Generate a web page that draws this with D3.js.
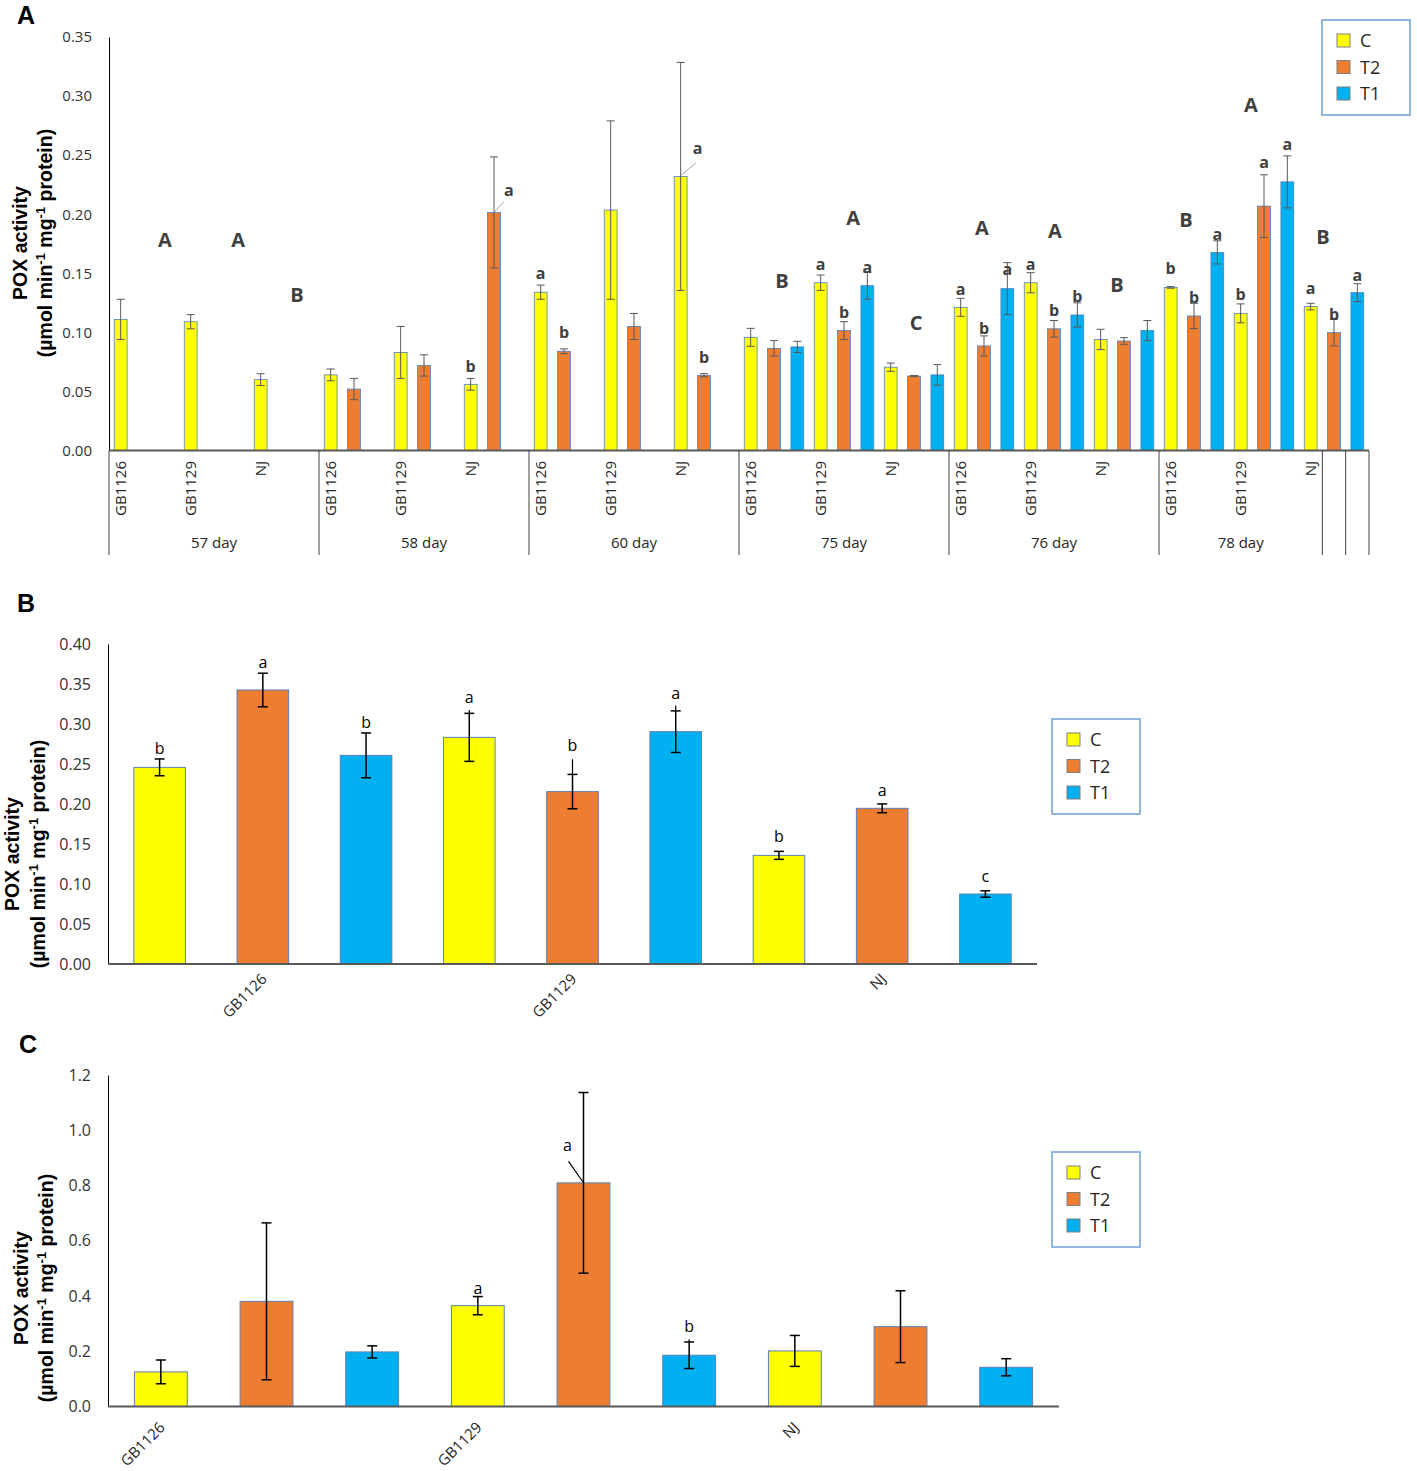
<!DOCTYPE html>
<meta charset="utf-8">
<style>
body{margin:0;background:#fff;}
text{font-family:"Open Sans",sans-serif;fill:#262626;}
.tick text{fill:#333;}
.ytitle{font-family:"Liberation Sans",Arial,sans-serif;font-weight:bold;font-size:19.5px;fill:#000;}
.panel{font-family:"Liberation Sans",Arial,sans-serif;font-weight:bold;font-size:25px;fill:#000;}
.sig{font-family:"Liberation Sans Narrow","Open Sans",sans-serif;font-weight:bold;font-size:16px;fill:#404040;}
.grp{font-family:"Liberation Sans Narrow","Open Sans",sans-serif;font-weight:bold;font-size:20px;fill:#404040;}
.sig2{font-size:16px;fill:#000;}
</style>
<body>
<script src="https://d3js.org/d3.v7.min.js"></script>
<script>

var treatments = ["C","T2","T1"];
var colors = ["#FFFF00","#ED7D31","#00B0F0"];
var genotypes = ["GB1126","GB1129","NJ"];
var days = ["57 day","58 day","60 day","75 day","76 day","78 day"];

// panel A, one value per day x genotype (57..78 day, GB1126/GB1129/NJ)
var aC    = [0.111,0.109,0.060, 0.064,0.083,0.056, 0.134,0.2035,0.232, 0.0958,0.142,0.0705, 0.1212,0.142,0.094, 0.138,0.1161,0.1218];
var aCErr = [0.017,0.006,0.005, 0.005,0.022,0.005, 0.006,0.0755,0.0965, 0.0076,0.0065,0.0035, 0.0076,0.0085,0.0086, 0.0007,0.008,0.0028];
var aT2    = [null,null,null, 0.052,0.072,0.2015, 0.084,0.105,0.0637, 0.0865,0.1015,0.063, 0.0885,0.103,0.0927, 0.1139,0.2069,0.0998];
var aT2Err = [null,null,null, 0.009,0.009,0.047, 0.002,0.011,0.0013, 0.0065,0.0075,0.0005, 0.0085,0.007,0.0028, 0.0107,0.0265,0.0112];
var aT1    = [null,null,null, null,null,null, null,null,null, 0.0877,0.1395,0.064, 0.137,0.1147,0.1015, 0.1677,0.2274,0.1336];
var aT1Err = [null,null,null, null,null,null, null,null,null, 0.0047,0.0115,0.0087, 0.022,0.0103,0.0085, 0.0098,0.022,0.0076];

// slot positions where the category axis breaks (78 day has two extra empty cells)
var aDayBreaks = [0,9,18,27,36,45,52,53,54];

// lowercase letters of panel A: slot position, text, height
var aSigPos  = [15.5,17.14,18.5,19.5,25.22,25.5,30.5,31.5,32.5,36.5,37.5,38.5,39.5,40.5,41.5,45.5,46.5,47.5,48.5,49.5,50.5,51.5,52.5,53.5];
var aSigText = ["b","a","a","b","a","b","a","b","a","a","b","a","a","b","b","b","b","a","b","a","a","a","b","a"];
var aSigVal  = [0.0716,0.2205,0.1496,0.0996,0.2555,0.079,0.1572,0.1168,0.155,0.136,0.1035,0.153,0.1572,0.1185,0.1303,0.1538,0.1295,0.1826,0.1324,0.2442,0.2595,0.1371,0.1154,0.1485];
var aLeaders = [[16.5,0.2015,16.93,0.2107],[24.5,0.2326,25.16,0.2436]];

// capital letters of panel A
var aGrpPos  = [2.4,5.53,8.06,28.84,31.89,34.59,37.41,40.54,43.2,46.16,48.94,52.03];
var aGrpText = ["A","A","B","B","A","C","A","A","B","B","A","B"];
var aGrpVal  = [0.1784,0.1784,0.1318,0.1436,0.197,0.108,0.1886,0.186,0.140,0.1953,0.2928,0.181];

// panel B, bars in order GB1126 C,T2,T1, GB1129 C,T2,T1, NJ C,T2,T1
var bVals = [0.2458,0.3425,0.2608,0.2833,0.2155,0.2904,0.1358,0.1946,0.0875];
var bErr  = [0.0105,0.021,0.028,0.030,0.0215,0.026,0.005,0.0055,0.004];
var bSig  = ["b","a","b","a","b","a","b","a","c"];
var bSigVal = [0.269,0.3766,0.3017,0.3333,0.273,0.3383,0.159,0.2175,0.110];
var bStub = [null,null,null,0.3175,0.256,0.323,null,null,null];

// panel C
var cVals = [0.1253,0.3807,0.1976,0.365,0.8096,0.1855,0.2012,0.289,0.142];
var cErr  = [0.043,0.284,0.022,0.033,0.327,0.048,0.056,0.13,0.031];
var cSig  = [null,null,null,"a","a","b",null,null,null];
var cSigVal = [null,null,null,0.428,0.944,0.2917,null,null,null];
var cStub = [null,null,null,null,null,0.2435,null,null,null];

var svg = d3.select("body").append("svg").attr("width",1417).attr("height",1471);

function yTitle(x1,x2,yc){
	svg.append("text").attr("class","ytitle").attr("text-anchor","middle")
		.attr("transform","translate("+x1+","+yc+") rotate(-90)").attr("dy","0.35em").text("POX activity");
	var t = svg.append("text").attr("class","ytitle").attr("text-anchor","middle")
		.attr("transform","translate("+x2+","+yc+") rotate(-90)").attr("dy","0.35em");
	t.append("tspan").text("(\u00b5mol min");
	t.append("tspan").attr("dy",-7).style("font-size","13px").text("-1");
	t.append("tspan").attr("dy",7).text(" mg");
	t.append("tspan").attr("dy",-7).style("font-size","13px").text("-1");
	t.append("tspan").attr("dy",7).text(" protein)");
}

function legend(x0,y0){
	var g = svg.append("g").attr("transform","translate("+x0+","+y0+")");
	g.append("rect").attr("width",88).attr("height",95).attr("fill","#fff")
		.attr("stroke","#6f9fd8").attr("stroke-width",1.5);
	treatments.forEach(function(t,i){
		g.append("rect").attr("x",15).attr("y",14+i*26.5).attr("width",13).attr("height",13)
			.attr("fill",colors[i]).attr("stroke","#7f7f7f");
		g.append("text").attr("x",38).attr("y",21+i*26.5).attr("dy","0.35em")
			.style("font-size","18px").text(t);
	});
}

function errBar(g,x,y0,y1,cap,col,w){
	g.append("line").attr("x1",x).attr("x2",x).attr("y1",y0).attr("y2",y1).attr("stroke",col).attr("stroke-width",w);
	[y0,y1].forEach(function(yy){
		g.append("line").attr("x1",x-cap).attr("x2",x+cap).attr("y1",yy).attr("y2",yy).attr("stroke",col).attr("stroke-width",w);
	});
}

// ---------- panel A ----------
svg.append("text").attr("class","panel").attr("x",17).attr("y",24).text("A");

var xa = d3.scaleBand().domain(d3.range(54)).range([109,1369]).paddingInner(0.45).paddingOuter(0.225);
var xaPos = d3.scaleLinear().domain([0,54]).range([109,1369]);
var ya = d3.scaleLinear().domain([0,0.35]).range([450.5,37]);

var aSeries = [aC,aT2,aT1], aErrs = [aCErr,aT2Err,aT1Err];
var aBars = [];
days.forEach(function(d,di){
	genotypes.forEach(function(g,gi){
		treatments.forEach(function(t,ti){
			var k = di*3+gi, v = aSeries[ti][k];
			if(v!=null) aBars.push({slot:di*9+gi*3+ti, v:v, e:aErrs[ti][k], t:ti});
		});
	});
});

var gA = svg.append("g");
gA.append("g").attr("transform","translate(109,0)")
	.call(d3.axisLeft(ya).tickValues(d3.range(0,0.351,0.05)).tickFormat(d3.format(".2f")).tickSize(0).tickPadding(17))
	.call(function(s){ s.select(".domain").attr("stroke","#000"); s.selectAll(".tick text").style("font-size","15px"); });

gA.selectAll("rect.bar").data(aBars).join("rect").attr("class","bar")
	.attr("x",function(d){ return xa(d.slot); })
	.attr("width",xa.bandwidth())
	.attr("y",function(d){ return ya(d.v); })
	.attr("height",function(d){ return ya(0)-ya(d.v); })
	.attr("fill",function(d){ return colors[d.t]; })
	.attr("stroke","#4f81bd").attr("stroke-width",0.8);

aBars.forEach(function(d){
	errBar(gA, xa(d.slot)+xa.bandwidth()/2, ya(d.v-d.e), ya(d.v+d.e), 4, "#595959", 1);
});

aLeaders.forEach(function(l){
	gA.append("line").attr("x1",xaPos(l[0])).attr("y1",ya(l[1])).attr("x2",xaPos(l[2])).attr("y2",ya(l[3]))
		.attr("stroke","#a6a6a6").attr("stroke-width",1);
});

aSigPos.forEach(function(p,i){
	gA.append("text").attr("class","sig").attr("text-anchor","middle")
		.attr("x",xaPos(p)).attr("y",ya(aSigVal[i])).attr("dy","0.35em").text(aSigText[i]);
});
aGrpPos.forEach(function(p,i){
	gA.append("text").attr("class","grp").attr("text-anchor","middle")
		.attr("x",xaPos(p)).attr("y",ya(aGrpVal[i])).attr("dy","0.35em").text(aGrpText[i]);
});

// category axis
gA.append("line").attr("x1",109).attr("x2",1369).attr("y1",ya(0)).attr("y2",ya(0))
	.attr("stroke","#595959").attr("stroke-width",2);
aDayBreaks.forEach(function(b){
	gA.append("line").attr("x1",xaPos(b)).attr("x2",xaPos(b)).attr("y1",ya(0)).attr("y2",555)
		.attr("stroke","#404040").attr("stroke-width",1);
});
days.forEach(function(d,di){
	gA.append("text").attr("text-anchor","middle").attr("x",(xaPos(aDayBreaks[di])+xaPos(aDayBreaks[di+1]))/2)
		.attr("y",543).attr("dy","0.35em").style("font-size","15px").text(d);
	genotypes.forEach(function(g,gi){
		var cx = xa(di*9+gi*3)+xa.bandwidth()/2;
		gA.append("text").attr("text-anchor","end")
			.attr("transform","translate("+cx+",461) rotate(-90)").attr("dy","0.35em")
			.style("font-size","15px").text(g);
	});
});
legend(1322,20);
yTitle(20,45,243);

// ---------- panels B and C ----------
function simplePanel(o){
	var x = d3.scaleBand().domain(d3.range(9)).range([108,o.right]).paddingInner(0.5).paddingOuter(0.25);
	var y = d3.scaleLinear().domain([0,o.max]).range([o.bottom,o.top]);
	var g = svg.append("g");
	g.append("g").attr("transform","translate(108,0)")
		.call(d3.axisLeft(y).tickValues(d3.range(0,o.max+o.step/2,o.step)).tickFormat(d3.format(o.fmt)).tickSize(0).tickPadding(17))
		.call(function(s){ s.select(".domain").attr("stroke","#000"); s.selectAll(".tick text").style("font-size","16px"); });
	var bars = o.vals.map(function(v,i){ return {i:i, v:v, e:o.err[i], t:i%3}; });
	g.selectAll("rect.bar").data(bars).join("rect").attr("class","bar")
		.attr("x",function(d){ return x(d.i); })
		.attr("width",x.bandwidth())
		.attr("y",function(d){ return y(d.v); })
		.attr("height",function(d){ return y(0)-y(d.v); })
		.attr("fill",function(d){ return colors[d.t]; })
		.attr("stroke","#5b7fb8").attr("stroke-width",1);
	bars.forEach(function(d){
		var cx = x(d.i)+x.bandwidth()/2;
		errBar(g, cx, y(d.v-d.e), y(d.v+d.e), 5, "#000", 1.5);
		if(o.stub[d.i]!=null)
			g.append("line").attr("x1",cx).attr("x2",cx).attr("y1",y(d.v+d.e)).attr("y2",y(o.stub[d.i]))
				.attr("stroke","#000").attr("stroke-width",1.2);
		if(o.sig[d.i]!=null){
			var lx = cx + (o.sigShift[d.i]||0);
			g.append("text").attr("class","sig2").attr("text-anchor","middle")
				.attr("x",lx).attr("y",y(o.sigVal[d.i])).attr("dy","0.35em").text(o.sig[d.i]);
		}
	});
	if(o.leader){
		var L = o.leader;
		g.append("line").attr("x1",x(L[0])+x.bandwidth()/2).attr("y1",y(L[1]))
			.attr("x2",x(L[0])+x.bandwidth()/2+L[2]).attr("y2",y(L[3])).attr("stroke","#000").attr("stroke-width",1.2);
	}
	g.append("line").attr("x1",108).attr("x2",o.right).attr("y1",y(0)).attr("y2",y(0))
		.attr("stroke","#595959").attr("stroke-width",2);
	genotypes.forEach(function(name,gi){
		var cx = x(o.labelBars[gi])+x.bandwidth()/2;
		g.append("text").attr("text-anchor","end")
			.attr("transform","translate("+(cx+5)+","+(y(0)+o.labelDy)+") rotate(-45)")
			.style("font-size","15px").text(name);
	});
}

svg.append("text").attr("class","panel").attr("x",17).attr("y",612).text("B");
simplePanel({top:644,bottom:964,right:1037,max:0.4,step:0.05,fmt:".2f",
	vals:bVals,err:bErr,sig:bSig,sigVal:bSigVal,sigShift:[],stub:bStub,labelBars:[1,4,7],labelDy:16});
legend(1052,719);
yTitle(12,38,854);

svg.append("text").attr("class","panel").attr("x",19).attr("y",1053).text("C");
simplePanel({top:1075,bottom:1406.5,right:1059,max:1.2,step:0.2,fmt:".1f",
	vals:cVals,err:cErr,sig:cSig,sigVal:cSigVal,sigShift:[0,0,0,0,-16,0,0,0,0],stub:cStub,
	leader:[4,0.81,-15,0.887],labelBars:[0,3,6],labelDy:22});
legend(1052,1152);
yTitle(21,46,1288);
</script>
</body>
